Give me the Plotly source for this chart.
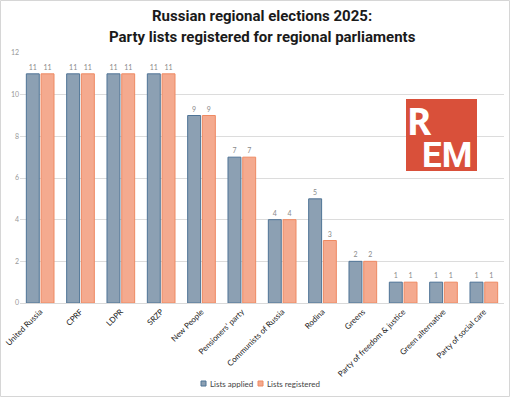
import plotly.graph_objects as go

categories = ["United Russia", "CPRF", "LDPR", "SRZP", "New People", "Pensioners' party",
              "Communists of Russia", "Rodina", "Greens", "Party of freedom & justice",
              "Green alternative", "Party of social care"]
applied = [11, 11, 11, 11, 9, 7, 4, 5, 2, 1, 1, 1]
registered = [11, 11, 11, 11, 9, 7, 4, 3, 2, 1, 1, 1]
y_ticks = [0, 2, 4, 6, 8, 10, 12]

W, H = 512, 397
L, R, T, B = 20, 8, 53, 94
PW, PH = W - L - R, H - T - B

def px(x):
    return (x - L) / PW

def py(y):
    return (H - B - y) / PH

BLUE, BLUE_LINE = "#8ca0b3", "#4f7496"
ORANGE, ORANGE_LINE = "#f4aa8f", "#ee8a63"

fig = go.Figure()
fig.add_trace(go.Bar(
    x=categories, y=applied, name="Lists applied",
    marker=dict(color=BLUE, line=dict(color=BLUE_LINE, width=1)),
    text=applied, textposition="outside", cliponaxis=False,
    textfont=dict(size=7, color="#8a8a8a"),
))
fig.add_trace(go.Bar(
    x=categories, y=registered, name="Lists registered",
    marker=dict(color=ORANGE, line=dict(color=ORANGE_LINE, width=1)),
    text=registered, textposition="outside", cliponaxis=False,
    textfont=dict(size=7, color="#8a8a8a"),
))

fig.update_layout(
    width=W, height=H,
    margin=dict(l=L, r=R, t=T, b=B),
    paper_bgcolor="white", plot_bgcolor="white",
    font=dict(family="Lato, sans-serif", color="#333"),
    barmode="group", bargap=0.27, bargroupgap=0.12,
    showlegend=False,
    xaxis=dict(tickangle=-45, tickfont=dict(size=8, color="#222"), showline=True,
               linecolor="#d9d9d9", linewidth=1, ticks="", automargin=False),
    yaxis=dict(range=[0, 12], tickvals=y_ticks, tickfont=dict(size=7, color="#999"),
               gridcolor="#dcdcdc", gridwidth=1, zeroline=False, ticks="", automargin=False),
)

# outer frame
fig.add_shape(type="rect", xref="paper", yref="paper",
              x0=px(0.5), x1=px(W - 2.5), y0=py(H - 0.5), y1=py(0.5),
              line=dict(color="#d6d6d6", width=1), fillcolor="rgba(0,0,0,0)", layer="below")

fig.add_annotation(text="<b>Russian regional elections 2025:</b>", xref="paper", yref="paper",
                   x=0.5, y=py(16), xanchor="center", yanchor="middle",
                   showarrow=False, font=dict(size=15, color="#1a1a1a", family="Roboto"))
fig.add_annotation(text="<b>Party lists registered for regional parliaments</b>", xref="paper", yref="paper",
                   x=0.5, y=py(37), xanchor="center", yanchor="middle",
                   showarrow=False, font=dict(size=15, color="#1a1a1a", family="Roboto"))

# custom legend
leg_items = [("Lists applied", BLUE, BLUE_LINE, 201), ("Lists registered", ORANGE, ORANGE_LINE, 258)]
for name, col, lc, x0 in leg_items:
    fig.add_shape(type="rect", xref="paper", yref="paper",
                  x0=px(x0), x1=px(x0 + 5), y0=py(386), y1=py(381),
                  fillcolor=col, line=dict(color=lc, width=1))
    fig.add_annotation(text=name, xref="paper", yref="paper", x=px(x0 + 7), y=py(383.5),
                       xanchor="left", yanchor="middle", showarrow=False,
                       font=dict(size=8, color="#444"))

# REM logo
fig.add_shape(type="rect", xref="paper", yref="paper",
              x0=px(406), x1=px(477), y0=py(171), y1=py(99),
              fillcolor="#d9503a", line=dict(width=0), layer="above")
fig.add_annotation(text="<b>R</b>", xref="paper", yref="paper", x=px(419), y=py(120),
                   xanchor="center", yanchor="middle",
                   showarrow=False, font=dict(size=37, color="white", family="Noto Sans"))
fig.add_annotation(text="<b>EM</b>", xref="paper", yref="paper", x=px(447), y=py(155),
                   xanchor="center", yanchor="middle",
                   showarrow=False, font=dict(size=35, color="white", family="Roboto"))

fig.write_html("out.html", config={"displayModeBar": False},
               post_script="document.body.style.margin='0';")
